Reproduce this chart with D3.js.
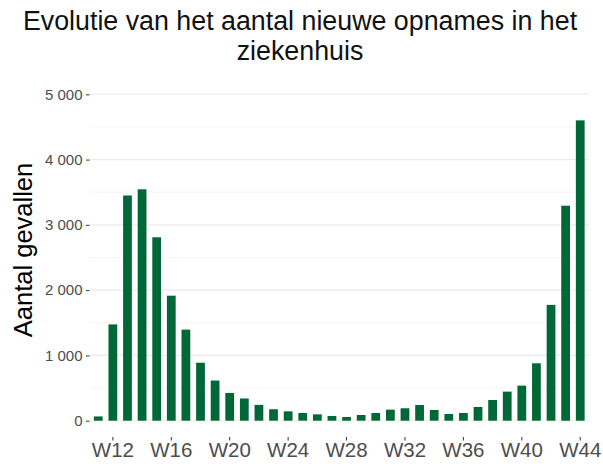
<!DOCTYPE html>
<html>
<head>
<meta charset="utf-8">
<script src="https://cdn.jsdelivr.net/npm/d3@7"></script>
<style>
  body { margin: 0; background: #fff; }
  svg { display: block; font-family: "Liberation Sans", Arial, sans-serif; }
</style>
</head>
<body>
<div id="chart"></div>
<script>
var W = 603, H = 466;
var margins = {top: 78, right: 14, bottom: 29, left: 89.5};
var width = W - margins.left - margins.right,
    height = H - margins.top - margins.bottom;

// weeks W11 .. W44
const weeks = ['W11','W12','W13','W14','W15','W16','W17','W18','W19','W20',
  'W21','W22','W23','W24','W25','W26','W27','W28','W29','W30',
  'W31','W32','W33','W34','W35','W36','W37','W38','W39','W40',
  'W41','W42','W43','W44'];
const admissions = [65, 1475, 3450, 3545, 2810, 1915, 1395, 888, 615, 425,
  340, 242, 175, 143, 118, 97, 72, 56, 87, 118,
  169, 190, 240, 164, 102, 118, 210, 317, 445, 537,
  879, 1774, 3293, 4601];
const xTickLabels = ['W12','W16','W20','W24','W28','W32','W36','W40','W44'];
const yTicks = [0, 1000, 2000, 3000, 4000, 5000];
const yMinorTicks = [500, 1500, 2500, 3500, 4500];

var svg = d3.select("#chart").append("svg")
    .attr("width", W)
    .attr("height", H);

var g = svg.append("g")
    .attr("transform", "translate(" + margins.left + "," + margins.top + ")");

const x = d3.scaleBand()
    .domain(weeks)
    .range([0, width])
    .paddingInner(0.4)
    .paddingOuter(0.3);

const y = d3.scaleLinear()
    .domain([-250, 5250])
    .range([height, 0]);

const fmt = d3.formatLocale({decimal: ",", thousands: " ", grouping: [3], currency: ["", ""]}).format(",");

// gridlines (minor then major)
g.selectAll("line.minor-grid")
    .data(yMinorTicks)
    .enter().append("line")
    .attr("class", "minor-grid")
    .attr("x1", 0).attr("x2", width)
    .attr("y1", d => y(d)).attr("y2", d => y(d))
    .style("stroke", "#f2f2f2")
    .style("stroke-width", 0.8);

g.selectAll("line.major-grid")
    .data(yTicks)
    .enter().append("line")
    .attr("class", "major-grid")
    .attr("x1", 0).attr("x2", width)
    .attr("y1", d => y(d)).attr("y2", d => y(d))
    .style("stroke", "#ebebeb")
    .style("stroke-width", 1.1);

// bars
g.selectAll(".bar")
    .data(admissions)
    .enter().append("rect")
    .attr("class", "bar")
    .attr("x", (d, i) => x(weeks[i]))
    .attr("width", x.bandwidth())
    .attr("y", d => y(d))
    .attr("height", d => y(0) - y(d))
    .style("fill", "#006837");

// axes
const yAxis = d3.axisLeft(y)
    .tickValues(yTicks)
    .tickFormat(fmt)
    .tickSize(3.5)
    .tickPadding(3.5);

const xAxis = d3.axisBottom(x)
    .tickValues(xTickLabels)
    .tickSize(3.5)
    .tickPadding(1.5);

g.append("g")
    .attr("class", "y axis")
    .call(yAxis)
    .call(s => s.select(".domain").remove())
    .call(s => s.selectAll(".tick line").style("stroke", "#333").style("stroke-width", 1))
    .call(s => s.selectAll(".tick text")
        .style("font-size", "15px")
        .style("fill", "#4d4d4d")
        .style("font-family", "Liberation Sans, Arial, sans-serif"));

g.append("g")
    .attr("class", "x axis")
    .attr("transform", "translate(0," + height + ")")
    .call(xAxis)
    .call(s => s.select(".domain").remove())
    .call(s => s.selectAll(".tick line").style("stroke", "#333").style("stroke-width", 1))
    .call(s => s.selectAll(".tick text")
        .style("font-size", "20.5px")
        .style("fill", "#4d4d4d")
        .style("font-family", "Liberation Sans, Arial, sans-serif"));

// y axis title
svg.append("text")
    .attr("transform", "translate(32,250) rotate(-90)")
    .style("text-anchor", "middle")
    .style("font-size", "25.5px")
    .style("fill", "#000")
    .text("Aantal gevallen");

// title
const titleLines = ["Evolutie van het aantal nieuwe opnames in het", "ziekenhuis"];
svg.selectAll(".title")
    .data(titleLines)
    .enter().append("text")
    .attr("class", "title")
    .attr("x", 300)
    .attr("y", (d, i) => 30 + i * 29.5)
    .style("text-anchor", "middle")
    .style("font-size", "26.8px")
    .style("fill", "#111")
    .text(d => d);
</script>
</body>
</html>
